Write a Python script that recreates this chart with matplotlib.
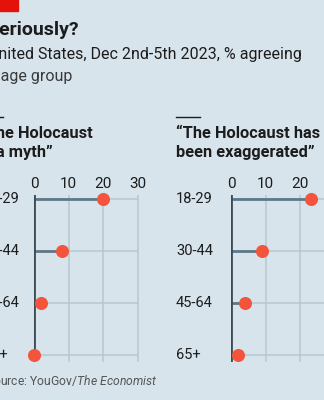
import matplotlib
matplotlib.use("Agg")
import matplotlib.pyplot as plt

# Survey data: YouGov/The Economist, Dec 2nd-5th 2023, % agreeing
age_groups = ["18-29", "30-44", "45-64", "65+"]
myth_pct = [20, 8, 2, 0]
exaggerated_pct = [23, 9, 4, 2]
x_ticks = [0, 10, 20, 30]

panel_titles = ["\u201cThe Holocaust\nis a myth\u201d",
                "\u201cThe Holocaust has\nbeen exaggerated\u201d"]

BG = "#d7e4ec"
DOT = "#f2553b"
STEM = "#5e7888"
AXIS = "#3c4b54"
GRID = "#b7c7d0"
TEXT = "#1c1c1c"

W, H = 324, 400
plt.rcParams["font.family"] = ["Roboto", "DejaVu Sans"]
plt.rcParams["mathtext.fontset"] = "custom"
plt.rcParams["mathtext.rm"] = "Roboto"
plt.rcParams["mathtext.it"] = "Roboto:italic"

fig = plt.figure(figsize=(W / 100, H / 100), dpi=100, facecolor=BG)


def fx(x):
    return x / W


def fy(y):
    return 1 - y / H


# red tag and headings
fig.patches.append(plt.Rectangle((fx(-21), fy(11)), fx(39), 11 / H,
                                 transform=fig.transFigure, color="#e3120b",
                                 zorder=5))
fig.text(fx(-12.5), fy(30), "Seriously?", fontsize=14, fontweight="bold",
         color=TEXT, va="center", ha="left")
fig.text(fx(-12), fy(55), "United States, Dec 2nd-5th 2023, % agreeing",
         fontsize=11.5, color=TEXT, va="center", ha="left")
fig.text(fx(-21), fy(77), "By age group", fontsize=11.5, color="#3a3a3a",
         va="center", ha="left")

fig.text(fx(-13.5), fy(380), r"Source: YouGov/$\it{The\ Economist}$",
         fontsize=8.7, color="#555555", va="center", ha="left")

panel_left = [34, 231]
label_shift = [3.5, 0]
px_per_unit = 3.47
series = [myth_pct, exaggerated_pct]

for left, shift, title, vals in zip(panel_left, label_shift, panel_titles,
                                    series):
    x1 = left + 30 * px_per_unit + 2
    ax = fig.add_axes([fx(left), fy(362), fx(x1 - left), (362 - 195) / H])
    ax.set_facecolor("none")
    ypos = list(range(len(age_groups)))
    ax.set_xlim(0, (x1 - left) / px_per_unit)
    ax.set_ylim(3 + 7 / 52, -4 / 52)
    # gridlines
    for t in x_ticks[1:]:
        ax.axvline(t, color=GRID, lw=1.1, zorder=1)
    for y in ypos:
        ax.hlines(y, 0, 30, color=GRID, lw=1.1, zorder=1)
    ax.axvline(0, color=AXIS, lw=2, zorder=3)
    ax.hlines(ypos, 0, vals, color=STEM, lw=2, zorder=2)
    ax.plot(vals, ypos, "o", ms=9.4, color=DOT, mec="none", zorder=4,
            clip_on=False)
    for s in ax.spines.values():
        s.set_visible(False)
    ax.xaxis.tick_top()
    ax.set_xticks(x_ticks)
    ax.set_xticklabels([str(t) for t in x_ticks], fontsize=11, color=TEXT)
    ax.tick_params(axis="x", length=0, pad=3)
    ax.set_yticks([])
    tx = left - 55
    for y, lab in zip(ypos, age_groups):
        ax.text(-(left - tx - shift) / px_per_unit, y, lab, fontsize=10.5,
                color=TEXT, va="center", ha="left")
    fig.lines.append(plt.Line2D([fx(tx), fx(tx + 24)], [fy(116.5)] * 2,
                                transform=fig.transFigure, color=TEXT, lw=1))
    fig.text(fx(tx), fy(143), title, fontsize=11.8, fontweight="bold",
             color=TEXT, va="center", ha="left", linespacing=1.35)

fig.savefig("out.png", dpi=100, facecolor=BG)
